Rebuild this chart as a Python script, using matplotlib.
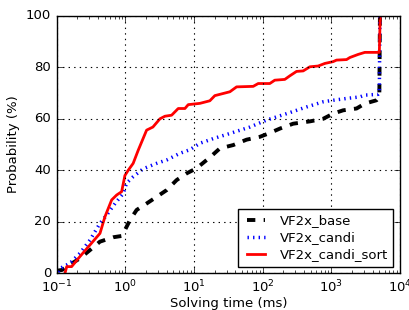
import matplotlib
matplotlib.use("Agg")
import matplotlib.pyplot as plt

plt.style.use("classic")

# VF2x_base
base_t = [0.1, 0.12, 0.140, 0.218, 0.305, 0.427, 0.667, 0.883, 0.986, 1.17, 1.46, 2.04, 2.86, 3.99,
          5.58, 7.80, 10.9, 17.0, 23.8, 37.2, 58.3, 91.0, 127, 178, 278, 487, 760, 1061, 1486, 2328,
          3075, 4550, 5000, 5100]
base_p = [1.0, 1.3, 2.6, 5.8, 9.0, 12.3, 14.0, 14.5, 16.8, 20.7, 24.6, 27.1, 29.7, 32.3,
          36.2, 38.8, 40.8, 45.0, 48.5, 49.8, 51.9, 53.0, 54.5, 56.2, 58.1, 59.0, 60.0, 62.0, 63.3, 64.0,
          65.9, 67.2, 68.5, 100]

# VF2x_candi
candi_t = [0.105, 0.112, 0.156, 0.218, 0.305, 0.427, 0.535, 0.707, 0.932, 1.04, 1.30, 1.82, 2.86, 3.99,
           6.23, 8.71, 12.2, 19.0, 33.3, 65.2, 114, 223, 436, 760, 1061, 1665, 2600, 3075, 4800, 5000, 5100]
candi_p = [0.5, 1.9, 3.9, 7.8, 12.9, 19.4, 22.6, 27.1, 31.0, 35.0, 37.5, 40.6, 42.7, 44.0,
           46.6, 48.0, 50.5, 52.3, 54.3, 56.8, 59.5, 62.0, 64.6, 66.6, 67.2, 67.9, 68.5, 69.2, 69.5, 70.0, 100]

# VF2x_candi_sort
sort_t = [0.132, 0.140, 0.165, 0.218, 0.305, 0.427, 0.505, 0.632, 0.747, 0.883, 0.986, 1.10, 1.30, 1.54,
          2.04, 2.52, 3.19, 3.77, 4.72, 5.89, 7.37, 8.24, 12.2, 17.0, 20.1, 23.8, 33.3, 41.7, 72.8, 86.1,
          127, 150, 210, 249, 311, 389, 487, 643, 804, 1061, 1190, 1665, 1860, 2455, 3075, 5000, 5150]
sort_p = [0.0, 2.6, 2.6, 6.5, 11.0, 15.5, 22.0, 28.5, 30.4, 31.7, 38.0, 40.0, 42.7, 47.8,
          55.6, 56.8, 60.0, 61.0, 61.4, 64.0, 64.0, 65.5, 66.0, 67.0, 69.0, 69.5, 70.5, 72.4, 72.6, 73.7,
          73.7, 75.0, 75.3, 76.7, 78.4, 78.6, 80.2, 80.5, 81.5, 82.2, 82.8, 83.0, 83.8, 85.0, 85.8, 85.8, 100]

labels = ["VF2x_base", "VF2x_candi", "VF2x_candi_sort"]

fs = 9.5
fig = plt.figure(figsize=(4.09, 3.10), dpi=100, facecolor="white")
ax = fig.add_axes([0.1386, 0.1184, 0.978 - 0.1386, 0.949 - 0.1184])
ax.set_facecolor("white")

ax.plot(base_t, base_p, color="black", linestyle="--", linewidth=2.8, label=labels[0])
ax.plot(candi_t, candi_p, color="blue", linestyle=":", linewidth=2.5, label=labels[1])
ax.plot(sort_t, sort_p, color="red", linestyle="-", linewidth=2.0, label=labels[2])

ax.set_xscale("log")
ax.set_xlim(0.1, 1e4)
ax.set_ylim(0, 100)
ax.set_yticks([0, 20, 40, 60, 80, 100])
ax.grid(True, color="black", linestyle=":", linewidth=0.8)
ax.set_xlabel("Solving time (ms)", fontsize=fs, labelpad=1)
ax.set_ylabel("Probability (%)", fontsize=fs, labelpad=4)
ax.tick_params(labelsize=fs)

leg = ax.legend(loc="lower right", fontsize=fs, frameon=True, fancybox=False,
                borderaxespad=0.5, handlelength=2.0, labelspacing=0.3)
leg.get_frame().set_edgecolor("black")

fig.savefig("out.png", dpi=100, facecolor="white")
